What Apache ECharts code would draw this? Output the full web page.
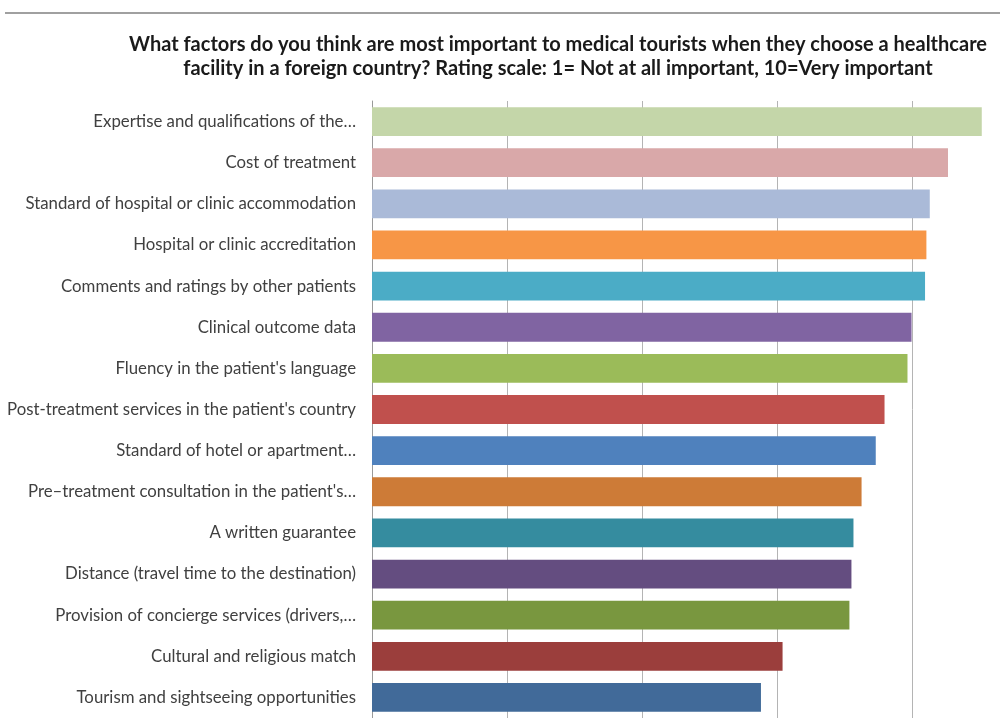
<!DOCTYPE html>
<html>
<head>
<meta charset="utf-8">
<script src="https://cdn.jsdelivr.net/npm/echarts@6/dist/echarts.min.js"></script>
<style>
  html, body { margin: 0; padding: 0; background: #fff; }
  #chart { width: 1000px; height: 718px; }
</style>
</head>
<body>
<div id="chart"></div>
<script>
// categories top to bottom
var factors = [
  "Expertise and qualifications of the…",
  "Cost of treatment",
  "Standard of hospital or clinic accommodation",
  "Hospital or clinic accreditation",
  "Comments and ratings by other patients",
  "Clinical outcome data",
  "Fluency in the patient's language",
  "Post-treatment services in the patient's country",
  "Standard of hotel or apartment…",
  "Pre–treatment consultation in the patient's…",
  "A written guarantee",
  "Distance (travel time to the destination)",
  "Provision of concierge services (drivers,…",
  "Cultural and religious match",
  "Tourism and sightseeing opportunities"
];
var ratings = [9.03, 8.53, 8.26, 8.21, 8.19, 7.99, 7.93, 7.59, 7.46, 7.25, 7.13, 7.10, 7.07, 6.08, 5.76];
var barColors = [
  "#c4d6a9", "#d9a8a9", "#aabad8", "#f79646", "#4bacc6",
  "#8064a2", "#9bbb59", "#c0504d", "#4f81bd", "#cd7b37",
  "#358c9f", "#644d80", "#79973f", "#9b3e3c", "#416a99"
];

var chart = echarts.init(document.getElementById("chart"));

// the original plot is cut off on the right, so the axis ends where the page does
var option = {
  animation: false,
  textStyle: { fontFamily: "Lato" },
  title: {
    text: "What factors do you think are most important to medical tourists when they choose a healthcare\nfacility in a foreign country? Rating scale: 1= Not at all important, 10=Very important",
    left: 553,
    top: 28,
    textAlign: "center",
    textStyle: {
      fontFamily: "Lato",
      fontSize: 20,
      fontWeight: "bold",
      color: "#1a1a1a",
      lineHeight: 24
    }
  },
  graphic: [{
    type: "line",
    shape: { x1: 5, y1: 13, x2: 1000, y2: 13 },
    style: { stroke: "#a0a0a0", lineWidth: 2 }
  }],
  grid: {
    left: 372,
    right: 0,
    top: 101,
    height: 620,
    containLabel: false
  },
  xAxis: {
    type: "value",
    min: 0,
    max: 9.3,
    interval: 2,
    axisLabel: { show: false },
    axisLine: { show: false },
    axisTick: { show: false },
    splitLine: { lineStyle: { color: "#b4b4b4", width: 1 } }
  },
  yAxis: {
    type: "category",
    inverse: true,
    data: factors,
    axisLine: { lineStyle: { color: "#9a9a9a", width: 1 } },
    axisTick: { length: 5, lineStyle: { color: "#9a9a9a" } },
    axisLabel: {
      margin: 16,
      fontSize: 16.8,
      color: "#404040",
      fontFamily: "Lato"
    }
  },
  series: [{
    type: "bar",
    data: ratings.map(function (v, i) {
      return { value: v, itemStyle: { color: barColors[i] } };
    }),
    barCategoryGap: "30%"
  }]
};

chart.setOption(option);
</script>
</body>
</html>
